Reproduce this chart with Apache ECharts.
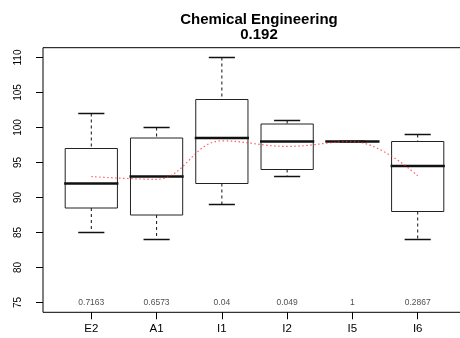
<!DOCTYPE html>
<html>
<head>
<meta charset="utf-8">
<script src="https://cdn.jsdelivr.net/npm/echarts@6/dist/echarts.min.js"></script>
<style>
  html, body { margin: 0; padding: 0; background: #fff; }
  #chart { width: 460px; height: 338px; }
</style>
</head>
<body>
<div id="chart"></div>
<script>
// data
const categories = ['E2', 'A1', 'I1', 'I2', 'I5', 'I6'];
const lows    = [85,   84,   89,   93,    98, 84];
const q1s     = [88.5, 87.5, 92,   94,    98, 88];
const medians = [92,   93,   98.5, 98,    98, 94.5];
const q3s     = [97,   98.5, 104,  100.5, 98, 98];
const highs   = [102,  100,  110,  101,   98, 99];
const means   = [93,   92.6, 98.1, 97.3,  98, 93.1];
const pvals   = ['0.7163', '0.6573', '0.04', '0.049', '1', '0.2867'];
const yTicks  = [75, 80, 85, 90, 95, 100, 105, 110];
const xTicks  = categories.map((c, i) => i + 1);

const font = 'Liberation Sans, Arial, Helvetica, sans-serif';

const boxData = categories.map((c, i) => [i + 1, lows[i], q1s[i], medians[i], q3s[i], highs[i]]);
const meanData = categories.map((c, i) => [i + 1, means[i]]);
const pData = categories.map((c, i) => [i + 1, 75]);

// box + dashed whiskers + thick median, like R's boxplot
function renderBox(params, api) {
  const x = api.value(0);
  const half = api.size([0.8, 0])[0] / 2;
  const capHalf = api.size([0.4, 0])[0] / 2;
  const pLow = api.coord([x, api.value(1)]);
  const pQ1 = api.coord([x, api.value(2)]);
  const pMed = api.coord([x, api.value(3)]);
  const pQ3 = api.coord([x, api.value(4)]);
  const pHigh = api.coord([x, api.value(5)]);
  const cx = pMed[0];
  const line = (x1, y1, x2, y2, w, dash) => ({
    type: 'line',
    shape: { x1, y1, x2, y2 },
    style: { stroke: '#111', lineWidth: w, lineDash: dash || null }
  });
  return {
    type: 'group',
    children: [
      line(cx, pHigh[1], cx, pQ3[1], 1, [3, 3]),
      line(cx, pQ1[1], cx, pLow[1], 1, [3, 3]),
      line(cx - capHalf, pHigh[1], cx + capHalf, pHigh[1], 1.5),
      line(cx - capHalf, pLow[1], cx + capHalf, pLow[1], 1.5),
      {
        type: 'rect',
        shape: { x: cx - half, y: pQ3[1], width: half * 2, height: pQ1[1] - pQ3[1] },
        style: { fill: '#fff', stroke: '#222', lineWidth: 1 }
      },
      line(cx - half - 1, pMed[1], cx + half + 1, pMed[1], 2.5)
    ]
  };
}

const myChart = echarts.init(document.getElementById('chart'));
const option = {
  animation: false,
  title: {
    text: 'Chemical Engineering\n0.192',
    left: 254,
    top: 7,
    textAlign: 'center',
    textStyle: { fontFamily: font, fontSize: 15, fontWeight: 'bold', color: '#000', lineHeight: 15 }
  },
  grid: {
    left: 43,
    top: 47.7,
    width: 423,
    height: 264.6,
    outerBoundsMode: 'none',
    containLabel: false,
    show: true,
    borderColor: '#000',
    borderWidth: 1,
    backgroundColor: 'transparent'
  },
  xAxis: {
    type: 'value',
    min: 0.26,
    max: 6.74,
    splitLine: { show: false },
    axisLine: { show: false },
    axisTick: { show: true, customValues: xTicks, length: 7, lineStyle: { color: '#000' } },
    axisLabel: {
      customValues: xTicks,
      formatter: v => categories[Math.round(v) - 1],
      fontFamily: font, fontSize: 11.5, color: '#000', margin: 11
    }
  },
  yAxis: {
    type: 'value',
    min: 73.6,
    max: 111.4,
    splitLine: { show: false },
    axisLine: { show: false },
    axisTick: { show: true, customValues: yTicks, length: 7, lineStyle: { color: '#000' } },
    axisLabel: {
      customValues: yTicks,
      rotate: 90,
      fontFamily: font, fontSize: 10, color: '#000', margin: 20
    }
  },
  series: [
    {
      type: 'custom',
      renderItem: renderBox,
      data: boxData,
      encode: { x: 0, y: [1, 2, 3, 4, 5] },
      z: 2
    },
    {
      type: 'line',
      data: meanData,
      smooth: 0.4,
      symbol: 'none',
      lineStyle: { color: 'rgba(255,40,40,0.75)', width: 1.2, type: [1.5, 2.5] },
      z: 3
    },
    {
      type: 'scatter',
      data: pData,
      symbolSize: 0,
      label: {
        show: true,
        position: 'inside',
        formatter: p => pvals[p.dataIndex],
        fontFamily: font, fontSize: 8.5, color: '#222'
      },
      z: 4
    }
  ]
};
myChart.setOption(option);
window.addEventListener('resize', function () {
  myChart.resize();
});
</script>
</body>
</html>
